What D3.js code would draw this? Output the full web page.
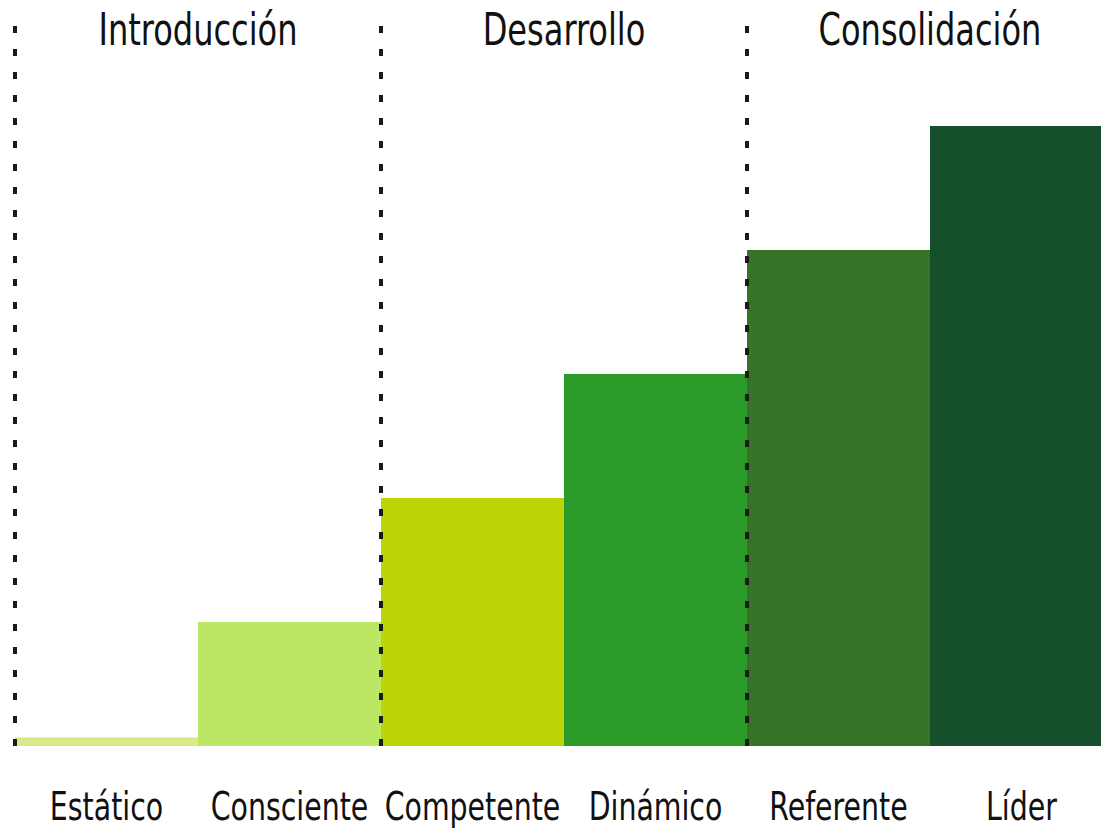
<!DOCTYPE html>
<html>
<head>
<meta charset="utf-8">
<script src="https://cdn.jsdelivr.net/npm/d3@7"></script>
<style>
  html, body { margin: 0; padding: 0; background: #fff; }
  svg { display: block; }
  text { font-family: "Liberation Sans Narrow", "DejaVu Sans Condensed", "DejaVu Sans", sans-serif; fill: #111; }
</style>
</head>
<body>
<div id="chart"></div>
<script>
// niveles de madurez
var levels = ["Estático", "Consciente", "Competente", "Dinámico", "Referente", "Líder"];
var values = [0.07, 1, 2, 3, 4, 5];
var colors = ["#dce987", "#bae862", "#bdd507", "#2a9a29", "#367326", "#164f2c"];
// etapas y el primer / ultimo nivel de cada una
var stages = ["Introducción", "Desarrollo", "Consolidación"];
var stageStart = ["Estático", "Competente", "Referente"];
var stageEnd = ["Consciente", "Dinámico", "Líder"];

var W = 1101, H = 829;
var margin = {top: 10, left: 15, bottom: 83};
var squeeze = 0.81; // the original type is a condensed face

var svg = d3.select("#chart").append("svg")
  .attr("width", W)
  .attr("height", H);

var x = d3.scaleBand().domain(levels).range([margin.left, margin.left + 183 * 6]).padding(0);
var y = d3.scaleLinear().domain([0, 5]).range([H - margin.bottom, 126]);

//bars
svg.append("g").selectAll("rect").data(levels).enter().append("rect")
  .attr("x", function(d){ return x(d); })
  .attr("width", x.bandwidth())
  .attr("y", function(d, i){ return y(values[i]); })
  .attr("height", function(d, i){ return y(0) - y(values[i]); })
  .attr("fill", function(d, i){ return colors[i]; });

//dotted separators, drawn from the baseline up
svg.append("g").selectAll("line").data(stageStart).enter().append("line")
  .attr("x1", function(d){ return x(d); })
  .attr("x2", function(d){ return x(d); })
  .attr("y1", y(0))
  .attr("y2", margin.top)
  .attr("stroke", "#1a1a1a")
  .attr("stroke-width", 4)
  .attr("stroke-dasharray", "7,16");

//stage titles
svg.append("g").selectAll("text").data(stages).enter().append("text")
  .attr("transform", function(d, i){
    var cx = (x(stageStart[i]) + x(stageEnd[i]) + x.bandwidth()) / 2;
    return "translate(" + cx + ",45) scale(" + squeeze + ",1)";
  })
  .attr("text-anchor", "middle")
  .attr("font-size", "44px")
  .text(function(d){ return d; });

//level labels
svg.append("g").selectAll("text").data(levels).enter().append("text")
  .attr("transform", function(d){
    return "translate(" + (x(d) + x.bandwidth() / 2) + ",820) scale(" + squeeze + ",1)";
  })
  .attr("text-anchor", "middle")
  .attr("font-size", "39px")
  .text(function(d){ return d; });
</script>
</body>
</html>
